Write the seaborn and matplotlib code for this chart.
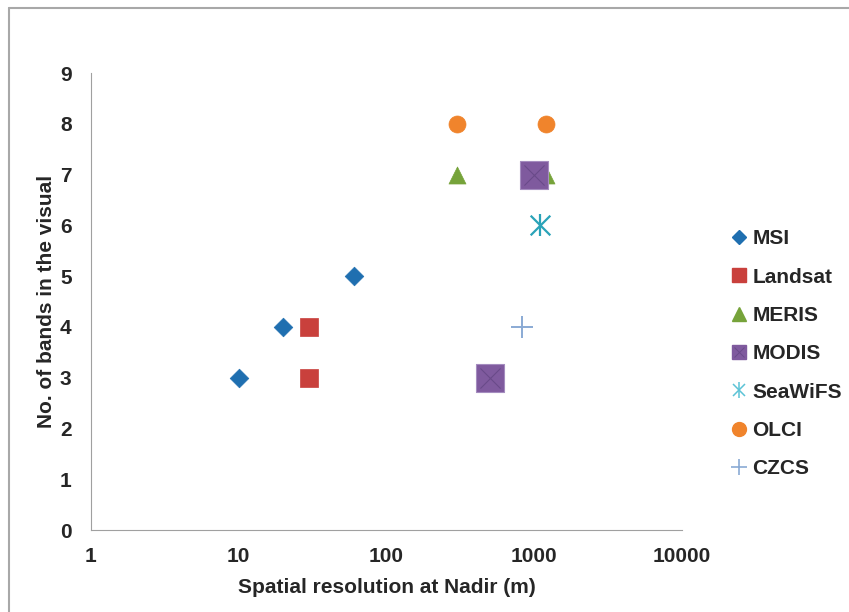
import matplotlib
matplotlib.use("Agg")
import matplotlib.pyplot as plt
import seaborn as sns
import pandas as pd
from matplotlib.lines import Line2D

sns.set_style("white")
plt.rcParams['font.family'] = ['Liberation Sans', 'DejaVu Sans']

# Data
msi_res = [10, 20, 60]
msi_bands = [3, 4, 5]
landsat_res = [30, 30]
landsat_bands = [3, 4]
meris_res = [300, 1200]
meris_bands = [7, 7]
modis_res = [500, 1000]
modis_bands = [3, 7]
seawifs_res = [1100]
seawifs_bands = [6]
olci_res = [300, 1200]
olci_bands = [8, 8]
czcs_res = [825]
czcs_bands = [4]

sensors = ["MSI", "Landsat", "MERIS", "MODIS", "SeaWiFS", "OLCI", "CZCS"]
res_lists = [msi_res, landsat_res, meris_res, modis_res, seawifs_res, olci_res, czcs_res]
band_lists = [msi_bands, landsat_bands, meris_bands, modis_bands, seawifs_bands, olci_bands, czcs_bands]

rows = []
for s, r, b in zip(sensors, res_lists, band_lists):
    for ri, bi in zip(r, b):
        rows.append({"sensor": s, "res": ri, "bands": bi})
df = pd.DataFrame(rows)

colors = {"MSI": "#1f6fb0", "Landsat": "#c9403c", "MERIS": "#76a33a",
          "MODIS": "#7f5a9e", "SeaWiFS": "#2aa3b8", "OLCI": "#f0842c", "CZCS": "#8aaad4"}

fig = plt.figure(figsize=(8.49, 6.12), dpi=100)
ax = fig.add_axes([91/849, 1 - 530/612, (682-91)/849, (530-73)/612])

for s in sensors:
    sub = df[df.sensor == s]
    if s == "SeaWiFS":
        sns.scatterplot(data=sub, x="res", y="bands", ax=ax, marker="x",
                        s=200, color=colors[s], linewidth=1.6, legend=False)
        sns.scatterplot(data=sub, x="res", y="bands", ax=ax, marker="|",
                        s=260, color=colors[s], linewidth=1.6, legend=False)
    elif s == "CZCS":
        sns.scatterplot(data=sub, x="res", y="bands", ax=ax, marker="+",
                        s=230, color=colors[s], linewidth=1.4, legend=False)
    elif s == "MODIS":
        sns.scatterplot(data=sub, x="res", y="bands", ax=ax, marker="s",
                        s=380, color=colors[s], edgecolor="#a48cbf", linewidth=0.8, legend=False)
        sns.scatterplot(data=sub, x="res", y="bands", ax=ax, marker="x",
                        s=210, color="#6a4a8a", linewidth=0.8, legend=False)
    else:
        mk = {"MSI": "D", "Landsat": "s", "MERIS": "^", "OLCI": "o"}[s]
        sz = {"MSI": 90, "Landsat": 150, "MERIS": 150, "OLCI": 150}[s]
        sns.scatterplot(data=sub, x="res", y="bands", ax=ax, marker=mk,
                        s=sz, color=colors[s], edgecolor=colors[s],
                        linewidth=0.5, legend=False)

ax.set_xscale("log")
ax.set_xlim(1, 10000)
ax.set_ylim(0, 9)
ax.set_xticks([1, 10, 100, 1000, 10000])
ax.set_xticklabels(["1", "10", "100", "1000", "10000"])
ax.set_yticks(range(0, 10))
ax.minorticks_off()
ax.tick_params(axis="both", length=0, labelsize=15)
for lab in ax.get_xticklabels() + ax.get_yticklabels():
    lab.set_fontweight("bold")
ax.tick_params(axis="x", pad=12)
ax.tick_params(axis="y", pad=14)
ax.spines["top"].set_visible(False)
ax.spines["right"].set_visible(False)
ax.spines["left"].set_color("#a0a0a0")
ax.spines["bottom"].set_color("#a0a0a0")
ax.set_xlabel("Spatial resolution at Nadir (m)", fontsize=15, fontweight="bold", labelpad=9)
ax.set_ylabel("No. of bands in the visual", fontsize=15, fontweight="bold", labelpad=3)

# Legend
handles = [
    Line2D([], [], linestyle="none", marker="D", markersize=7, color=colors["MSI"]),
    Line2D([], [], linestyle="none", marker="s", markersize=10, color=colors["Landsat"]),
    Line2D([], [], linestyle="none", marker="^", markersize=10, color=colors["MERIS"]),
    (Line2D([], [], linestyle="none", marker="s", markersize=10, color=colors["MODIS"]),
     Line2D([], [], linestyle="none", marker="x", markersize=7, color="#6a4a8a", markeredgewidth=0.7)),
    (Line2D([], [], linestyle="none", marker="x", markersize=9, color="#5cc3d6", markeredgewidth=1.1),
     Line2D([], [], linestyle="none", marker="|", markersize=12, color="#5cc3d6", markeredgewidth=1.1)),
    Line2D([], [], linestyle="none", marker="o", markersize=10, color=colors["OLCI"]),
    Line2D([], [], linestyle="none", marker="+", markersize=12, color=colors["CZCS"], markeredgewidth=1.2),
]
leg = fig.legend(handles, sensors, loc="upper left", bbox_to_anchor=(720/849, 1 - 223/612),
                 frameon=False, handletextpad=0.05, labelspacing=0.93, handlelength=1.2,
                 borderaxespad=0, borderpad=0.3,
                 prop={"weight": "bold", "size": 15, "family": ["Liberation Sans"]})

# Frame border
fig.add_artist(Line2D([9/849, 1], [1 - 8/612, 1 - 8/612], transform=fig.transFigure, color="#a8a8a8", linewidth=1.5))
fig.add_artist(Line2D([9/849, 9/849], [0, 1 - 8/612], transform=fig.transFigure, color="#a8a8a8", linewidth=1.5))

fig.savefig("out.png", dpi=100)
